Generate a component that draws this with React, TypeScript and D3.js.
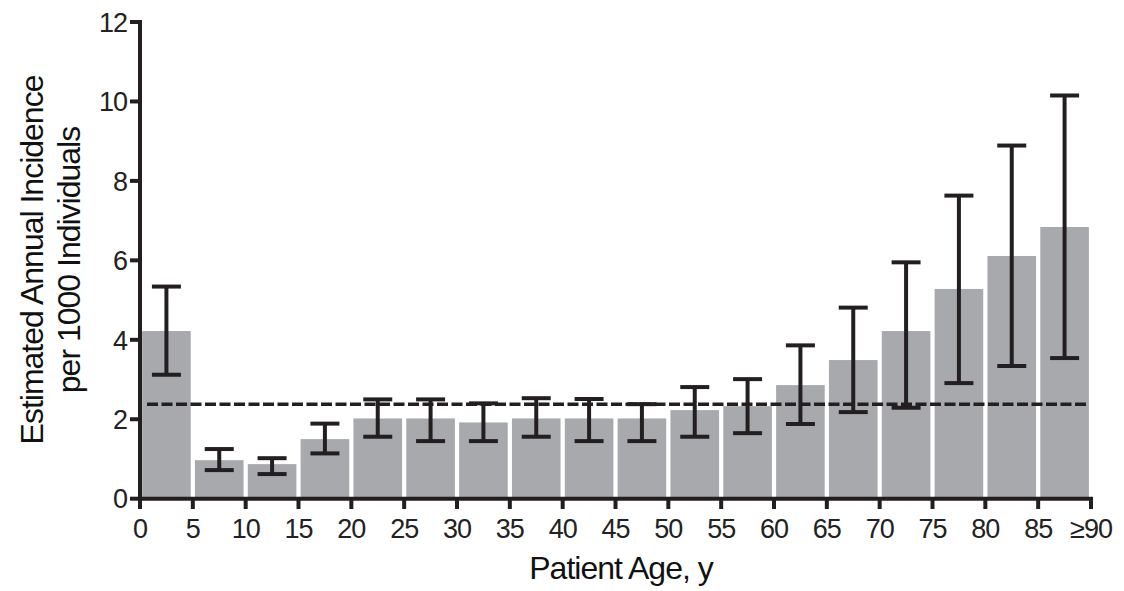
import React from 'react';
import * as d3 from 'd3';

const ageGroups = ['0', '5', '10', '15', '20', '25', '30', '35', '40', '45', '50', '55', '60', '65', '70', '75', '80', '85'];
const incidence = [4.22, 0.97, 0.87, 1.5, 2.02, 2.02, 1.92, 2.02, 2.02, 2.02, 2.23, 2.33, 2.86, 3.49, 4.22, 5.28, 6.11, 6.84];
const upperCI = [5.34, 1.25, 1.02, 1.89, 2.5, 2.5, 2.4, 2.53, 2.51, 2.38, 2.81, 3.01, 3.86, 4.81, 5.95, 7.63, 8.89, 10.15];
const lowerCI = [3.12, 0.72, 0.62, 1.14, 1.56, 1.45, 1.45, 1.56, 1.45, 1.45, 1.56, 1.65, 1.88, 2.18, 2.29, 2.91, 3.34, 3.54];
const xTickValues = [0, 5, 10, 15, 20, 25, 30, 35, 40, 45, 50, 55, 60, 65, 70, 75, 80, 85, 90];
const xTickLabels = ['0', '5', '10', '15', '20', '25', '30', '35', '40', '45', '50', '55', '60', '65', '70', '75', '80', '85', '≥90'];
const yTicks = [0, 2, 4, 6, 8, 10, 12];
const overallRate = 2.38;

const W = 1124;
const H = 591;
const left = 140;
const right = 1091;
const top = 22;
const bottom = 498.7;
const ink = '#231f20';
const font = '"Liberation Sans", Arial, sans-serif';

export default function App() {
  const x = d3.scaleLinear().domain([0, 90]).range([left, right]);
  const band = d3.scaleBand<string>().domain(ageGroups).range([left, right]).paddingInner(0.08).paddingOuter(0.04);
  const y = d3.scaleLinear().domain([0, 12]).range([bottom, top]);
  const capW = 29;

  return (
    <svg width={W} height={H} style={{ position: 'absolute', left: 0, top: 0, background: '#fff' }} fontFamily={font}>
      {/* bars */}
      {ageGroups.map((g, i) => (
        <rect key={g} x={band(g)} y={y(incidence[i])} width={band.bandwidth()} height={bottom - y(incidence[i])} fill="#a7a9ac" />
      ))}

      {/* overall dashed line */}
      <line x1={147} x2={1089} y1={y(overallRate)} y2={y(overallRate)} stroke={ink} strokeWidth={3.5} strokeDasharray="11,3.5" />

      {/* error bars */}
      {ageGroups.map((g, i) => {
        const cx = band(g)! + band.bandwidth() / 2;
        return (
          <g key={'e' + g} stroke={ink} strokeWidth={4}>
            <line x1={cx} x2={cx} y1={y(upperCI[i])} y2={y(lowerCI[i])} />
            <line x1={cx - capW / 2} x2={cx + capW / 2} y1={y(upperCI[i])} y2={y(upperCI[i])} />
            <line x1={cx - capW / 2} x2={cx + capW / 2} y1={y(lowerCI[i])} y2={y(lowerCI[i])} />
          </g>
        );
      })}

      {/* y axis */}
      <line x1={left} x2={left} y1={top - 2} y2={bottom + 2} stroke={ink} strokeWidth={4} />
      {yTicks.map(t => (
        <g key={'y' + t}>
          <line x1={130} x2={left} y1={y(t)} y2={y(t)} stroke={ink} strokeWidth={4} />
          <text x={127} y={y(t)} dy="0.36em" textAnchor="end" fontSize={27} fill="#222" letterSpacing={-1}>{t}</text>
        </g>
      ))}

      {/* x axis */}
      <line x1={left - 2} x2={right + 2} y1={bottom} y2={bottom} stroke={ink} strokeWidth={4} />
      {xTickValues.map((t, i) => (
        <g key={'x' + t}>
          <line x1={x(t)} x2={x(t)} y1={bottom} y2={509} stroke={ink} strokeWidth={4} />
          <text x={x(t)} y={538} textAnchor="middle" fontSize={27} fill="#222" letterSpacing={-1}>{xTickLabels[i]}</text>
        </g>
      ))}

      <text x={621} y={579} textAnchor="middle" fontSize={32} fill="#111" letterSpacing={-1}>Patient Age, y</text>

      <g transform="translate(43,260) rotate(-90)">
        <text x={0} y={0} textAnchor="middle" fontSize={32} fill="#111" letterSpacing={-1}>Estimated Annual Incidence</text>
        <text x={0} y={37} textAnchor="middle" fontSize={32} fill="#111" letterSpacing={-1}>per 1000 Individuals</text>
      </g>
    </svg>
  );
}
